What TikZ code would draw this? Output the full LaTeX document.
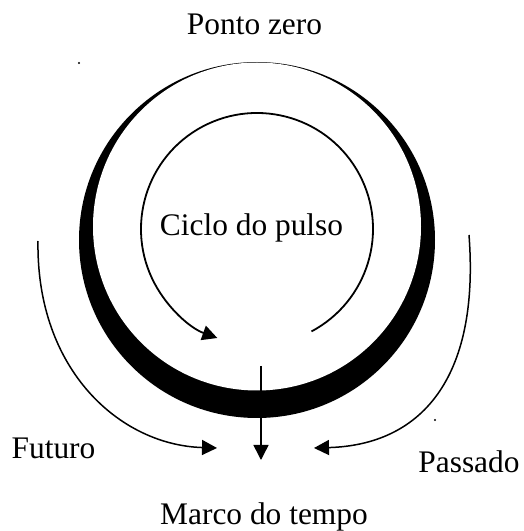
\documentclass[tikz,border=0pt]{standalone}
\usepackage{fontspec}
\setmainfont{Liberation Serif}
\usetikzlibrary{arrows.meta,calc}
\tikzset{
  lbl/.style={anchor=base, inner sep=0pt, font=\fontsize{31.4}{36}\selectfont},
  flow/.style={line width=1.5pt, -{Triangle[length=15pt,width=15pt]}},
  cyc/.style={line width=1.8pt, -{Triangle[length=15pt,width=15pt]}},
  speck/.style={fill=black}
}
\begin{document}
\begin{tikzpicture}[x=1pt,y=1pt]
\useasboundingbox (0,0) rectangle (524,531);
% crescent
\coordinate (oc) at (257,291);
\coordinate (ic) at (257,304.5);
\fill[black] (oc) circle[radius=178];
\fill[white] (ic) circle[radius=164];
% pulse cycle
\coordinate (cc) at (257,302);
\coordinate (cs) at ($(cc)+(-62:116)$);
\draw[cyc] (cs) arc[start angle=-62, end angle=250, radius=116];
% side arrows
\coordinate (fs) at (38,290);
\coordinate (fe) at (217,83);
\draw[flow] (fs) .. controls (36,161) and (120,86) .. (fe);
\coordinate (ps) at (469,296);
\coordinate (pe) at (314,83);
\draw[flow] (ps) .. controls (480,151) and (420,86) .. (pe);
% center arrow
\coordinate (ms) at (261,165);
\coordinate (me) at (261,71);
\draw[flow] (ms) -- (me);
% specks
\fill[speck] (79,468) circle[radius=1.2];
\fill[speck] (435,111) circle[radius=1.2];
% labels
\node[lbl] (pz) at (254.5,496) {Ponto zero};
\node[lbl] (cp) at (251.5,295) {Ciclo do pulso};
\node[lbl] (fu) at (53.5,72) {Futuro};
\node[lbl] (pa) at (469,59) {Passado};
\node[lbl] (mt) at (264,6) {Marco do tempo};
\end{tikzpicture}
\end{document}
